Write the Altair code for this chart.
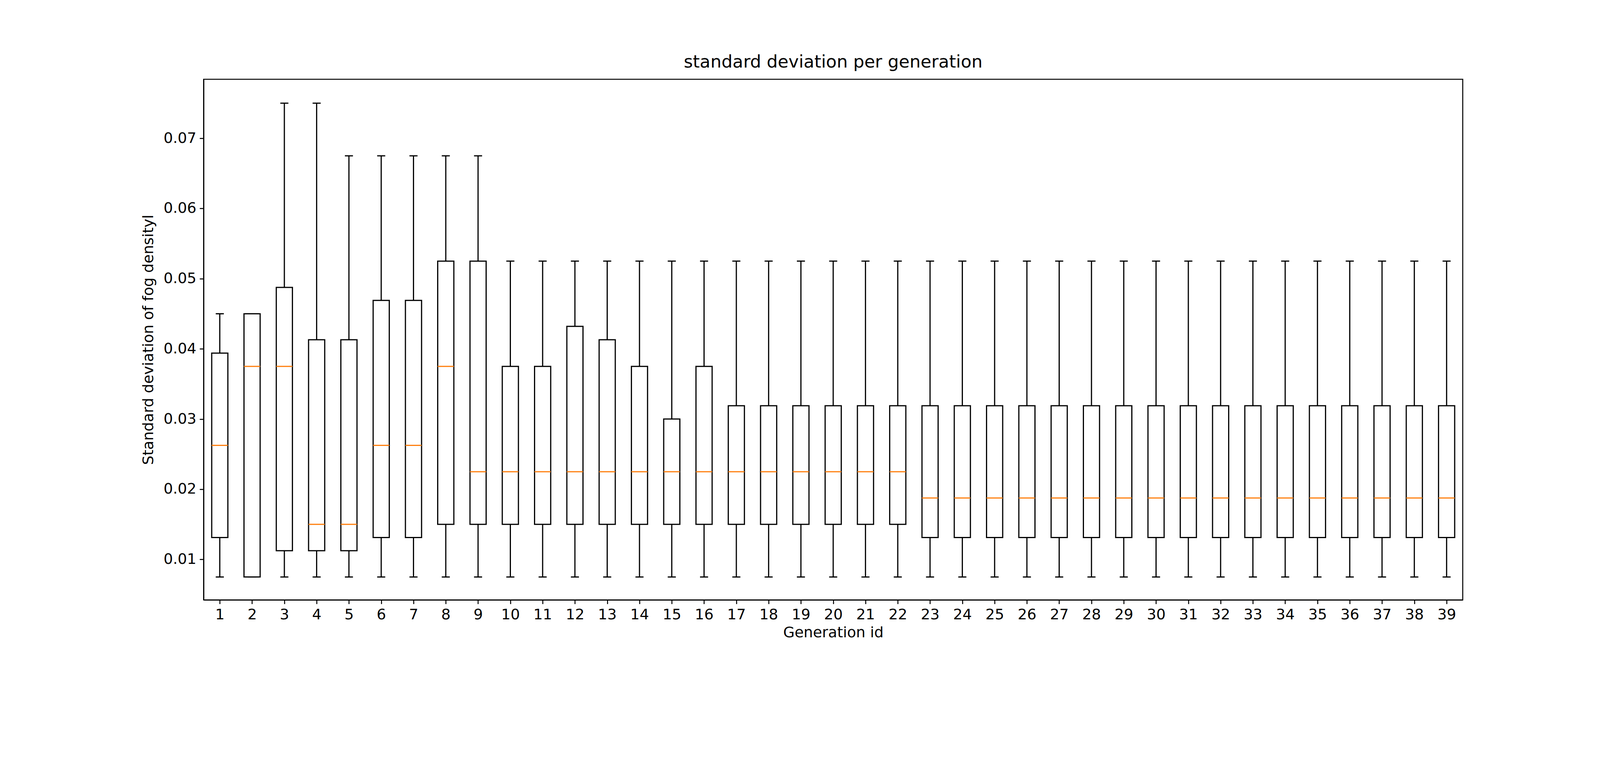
import pandas as pd
import altair as alt

gens = list(range(1, 40))
whislo = [0.0075] * 39
q1 = [0.01313, 0.0075, 0.01125, 0.01125, 0.01125, 0.01313, 0.01313] + [0.015] * 15 + [0.01313] * 17
med = [0.02625, 0.0375, 0.0375, 0.015, 0.015, 0.02625, 0.02625, 0.0375] + [0.0225] * 14 + [0.01875] * 17
q3 = [0.0394, 0.045, 0.04875, 0.0413, 0.0413, 0.0469, 0.0469, 0.0525, 0.0525,
      0.0375, 0.0375, 0.0432, 0.0413, 0.0375, 0.030, 0.0375] + [0.0319] * 23
whishi = [0.045, 0.045, 0.075, 0.075, 0.0675, 0.0675, 0.0675, 0.0675, 0.0675] + [0.0525] * 30

df = pd.DataFrame({"gen": gens, "lo": whislo, "q1": q1, "med": med, "q3": q3, "hi": whishi})
df["bl"] = df.gen - 0.25
df["br"] = df.gen + 0.25
df["cl"] = df.gen - 0.125
df["cr"] = df.gen + 0.125

font = "DejaVu Sans"
x = alt.X("gen:Q", title="Generation id",
          scale=alt.Scale(domain=[0.5, 39.5], nice=False, zero=False),
          axis=alt.Axis(values=gens, format="d", grid=False))
y = alt.Y("lo:Q", title="Standard deviation of fog densityl",
          scale=alt.Scale(domain=[0.00424, 0.0784], nice=False, zero=False),
          axis=alt.Axis(values=[0.01, 0.02, 0.03, 0.04, 0.05, 0.06, 0.07], format=".2f", grid=False))

base = alt.Chart(df)
lw = 3.5
lower = base.mark_rule(color="black", strokeWidth=lw).encode(x=x, y=y, y2="q1:Q")
upper = base.mark_rule(color="black", strokeWidth=lw).encode(x="gen:Q", y="q3:Q", y2="hi:Q")
cap_lo = base.mark_rule(color="black", strokeWidth=lw).encode(x="cl:Q", x2="cr:Q", y="lo:Q")
cap_hi = base.mark_rule(color="black", strokeWidth=lw).encode(x="cl:Q", x2="cr:Q", y="hi:Q")
box = base.mark_rect(fill="white", stroke="black", strokeWidth=lw).encode(
    x="bl:Q", x2="br:Q", y="q1:Q", y2="q3:Q")
median = base.mark_rule(color="#ff7f0e", strokeWidth=lw).encode(x="bl:Q", x2="br:Q", y="med:Q")

chart = alt.layer(lower, upper, cap_lo, cap_hi, box, median).properties(
    width=3755, height=1553,
    title=alt.Title("standard deviation per generation", fontSize=52, font=font,
                    fontWeight="normal", offset=24),
    padding={"left": 598, "top": 84, "right": 400, "bottom": 100},
    autosize=alt.AutoSizeParams(type="none"),
).configure_view(stroke="black", strokeWidth=3).configure_axis(
    domainColor="black", domainWidth=3, tickColor="black", tickWidth=3, tickSize=12,
    labelFont=font, labelFontSize=44, labelColor="black", labelPadding=10,
    titleFont=font, titleFontSize=44, titleFontWeight="normal", titleColor="black",
).configure_axisY(titlePadding=22).configure_axisX(titlePadding=10)

chart.save("out.html", embed_options={"renderer": "svg", "actions": False})
